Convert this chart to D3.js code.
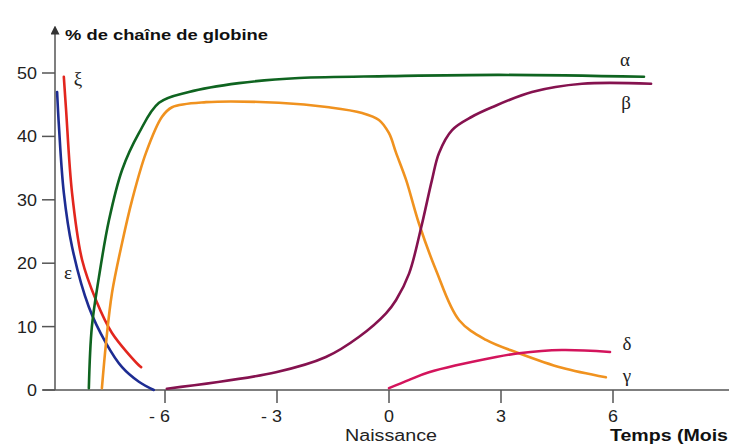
<!DOCTYPE html>
<html>
<head>
<meta charset="utf-8">
<script src="https://cdn.jsdelivr.net/npm/d3@7"></script>
<style>
  body { margin: 0; background: #fff; }
  svg { display: block; }
</style>
</head>
<body>
<div id="chart"></div>
<script>
(function(){
  var width = 729,
    height = 446;

  // time in months (0 = birth), value in % of globin chains
  var epsilon = [[-8.89,47.0],[-8.84,41.5],[-8.71,31.1],[-8.49,22.6],[-8.04,13.1],[-7.58,7.4],[-7.15,3.6],[-6.70,1.3],[-6.30,0]];
  var xi = [[-8.71,49.4],[-8.65,44.2],[-8.49,31.1],[-8.22,20.5],[-7.85,14.2],[-7.42,9.0],[-6.70,3.9],[-6.64,3.6]];
  var alpha = [[-8.04,0.3],[-7.96,9.9],[-7.77,17.8],[-7.50,26.8],[-7.15,34.7],[-6.70,40.5],[-6.16,45.3],[-5.36,47.0],[-4.02,48.4],[-2.41,49.2],[0,49.5],[2.95,49.7],[6.83,49.4]];
  var gamma = [[-7.69,0.3],[-7.58,7.4],[-7.42,15.3],[-7.15,23.2],[-6.88,30.0],[-6.51,37.4],[-6.08,43.1],[-5.81,44.6],[-4.90,45.4],[-2.95,45.3],[-1.61,44.6],[-0.72,43.7],[-0.27,42.6],[0,40.5],[0.19,37.4],[0.46,33.1],[0.80,26.3],[1.26,18.9],[1.88,11.0],[2.60,7.9],[3.48,5.8],[4.63,3.5],[5.81,2.0]];
  var beta = [[-5.95,0.2],[-3.03,2.8],[-1.69,5.2],[-0.80,8.4],[-0.08,12.1],[0.19,14.2],[0.54,18.4],[0.86,25.6],[1.15,33.1],[1.34,37.4],[1.69,41.0],[2.22,43.1],[2.76,44.6],[3.83,47.0],[5.17,48.3],[7.02,48.3]];
  var delta = [[0,0.3],[0.54,1.6],[1.07,2.8],[2.87,5.2],[3.48,5.8],[4.63,6.3],[5.92,6.0]];

  var yTicks = [0,10,20,30,40,50];
  var xTicks = [-6,-3,0,3,6];
  var xTickLabels = ["- 6","- 3","0","3","6"];

  var svg = d3.select("#chart")
    .append("svg")
    .attr("width", width)
    .attr("height", height)

  var x = d3.scaleLinear().domain([-6, 6]).range([165, 613])
  var y = d3.scaleLinear().domain([0, 50]).range([390, 73])

  var axisColor = "#555"

  // arrow marker for y axis
  svg.append("defs").append("marker")
    .attr("id", "arrow")
    .attr("viewBox", "0 0 10 10")
    .attr("refX", 5).attr("refY", 5)
    .attr("markerWidth", 6).attr("markerHeight", 6)
    .attr("orient", "auto")
    .append("path")
    .attr("d", "M0,0L10,5L0,10z")
    .attr("fill", "#333")

  // y axis
  svg.append("line")
    .attr("x1", 55).attr("x2", 55)
    .attr("y1", y(0)).attr("y2", 30)
    .attr("stroke", axisColor).attr("stroke-width", 1.5)
    .attr("marker-end", "url(#arrow)")

  // x axis
  svg.append("line")
    .attr("x1", 43).attr("x2", width)
    .attr("y1", y(0)).attr("y2", y(0))
    .attr("stroke", axisColor).attr("stroke-width", 1.5)

  svg.selectAll(".ytick")
    .data(yTicks)
    .enter().append("line")
    .attr("class", "ytick")
    .attr("x1", 42).attr("x2", 55)
    .attr("y1", function(d){ return y(d) }).attr("y2", function(d){ return y(d) })
    .attr("stroke", axisColor).attr("stroke-width", 1.5)

  svg.selectAll(".ylab")
    .data(yTicks)
    .enter().append("text")
    .attr("class", "ylab")
    .attr("transform", function(d){ return "translate(37," + (y(d) + 6) + ") scale(1.12,1)" })
    .attr("text-anchor", "end")
    .attr("font-family", "Liberation Sans, Arial, sans-serif")
    .attr("font-size", 16)
    .attr("fill", "#222")
    .text(function(d){ return d })

  svg.selectAll(".xtick")
    .data(xTicks)
    .enter().append("line")
    .attr("class", "xtick")
    .attr("x1", function(d){ return x(d) }).attr("x2", function(d){ return x(d) })
    .attr("y1", y(0)).attr("y2", y(0) + 13)
    .attr("stroke", axisColor).attr("stroke-width", 1.5)

  svg.selectAll(".xlab")
    .data(xTicks)
    .enter().append("text")
    .attr("class", "xlab")
    .attr("transform", function(d){ return "translate(" + (x(d) + 5) + ",422) scale(1.12,1)" })
    .attr("text-anchor", "end")
    .attr("font-family", "Liberation Sans, Arial, sans-serif")
    .attr("font-size", 16)
    .attr("fill", "#222")
    .text(function(d, i){ return xTickLabels[i] })

  // titles
  svg.append("text")
    .attr("x", 65).attr("y", 40)
    .attr("font-family", "Liberation Sans, Arial, sans-serif")
    .attr("font-weight", "bold")
    .attr("font-size", 15)
    .attr("textLength", 203)
    .attr("lengthAdjust", "spacingAndGlyphs")
    .attr("fill", "#111")
    .text("% de chaîne de globine")

  svg.append("text")
    .attr("x", 345).attr("y", 441)
    .attr("font-family", "Liberation Sans, Arial, sans-serif")
    .attr("font-size", 16)
    .attr("textLength", 92)
    .attr("lengthAdjust", "spacingAndGlyphs")
    .attr("fill", "#222")
    .text("Naissance")

  svg.append("text")
    .attr("x", 610).attr("y", 441)
    .attr("font-family", "Liberation Sans, Arial, sans-serif")
    .attr("font-weight", "bold")
    .attr("font-size", 16)
    .attr("textLength", 118)
    .attr("lengthAdjust", "spacingAndGlyphs")
    .attr("fill", "#111")
    .text("Temps (Mois")

  var line = d3.line()
    .x(function(d){ return x(d[0]) })
    .y(function(d){ return y(d[1]) })
    .curve(d3.curveCatmullRom.alpha(0.5))

  var series = [
    {name: "ε", data: epsilon, color: "#1d2c92"},
    {name: "ξ", data: xi, color: "#e2261e"},
    {name: "α", data: alpha, color: "#0f6420"},
    {name: "γ", data: gamma, color: "#f0921f"},
    {name: "β", data: beta, color: "#85124f"},
    {name: "δ", data: delta, color: "#d3145c"}
  ]

  svg.selectAll(".curve")
    .data(series)
    .enter().append("path")
    .attr("class", "curve")
    .attr("d", function(d){ return line(d.data) })
    .attr("fill", "none")
    .attr("stroke", function(d){ return d.color })
    .attr("stroke-width", 2.6)
    .attr("stroke-linecap", "round")

  // greek labels
  var labels = [
    {t: "α", x: 625, y: 66},
    {t: "β", x: 626, y: 109},
    {t: "δ", x: 627, y: 350},
    {t: "γ", x: 627, y: 382},
    {t: "ξ", x: 78, y: 85},
    {t: "ε", x: 68, y: 279}
  ]
  svg.selectAll(".glab")
    .data(labels)
    .enter().append("text")
    .attr("class", "glab")
    .attr("x", function(d){ return d.x })
    .attr("y", function(d){ return d.y })
    .attr("text-anchor", "middle")
    .attr("font-family", "Liberation Serif, DejaVu Serif, serif")
    .attr("font-size", 19)
    .attr("fill", "#222")
    .text(function(d){ return d.t })
})();
</script>
</body>
</html>
